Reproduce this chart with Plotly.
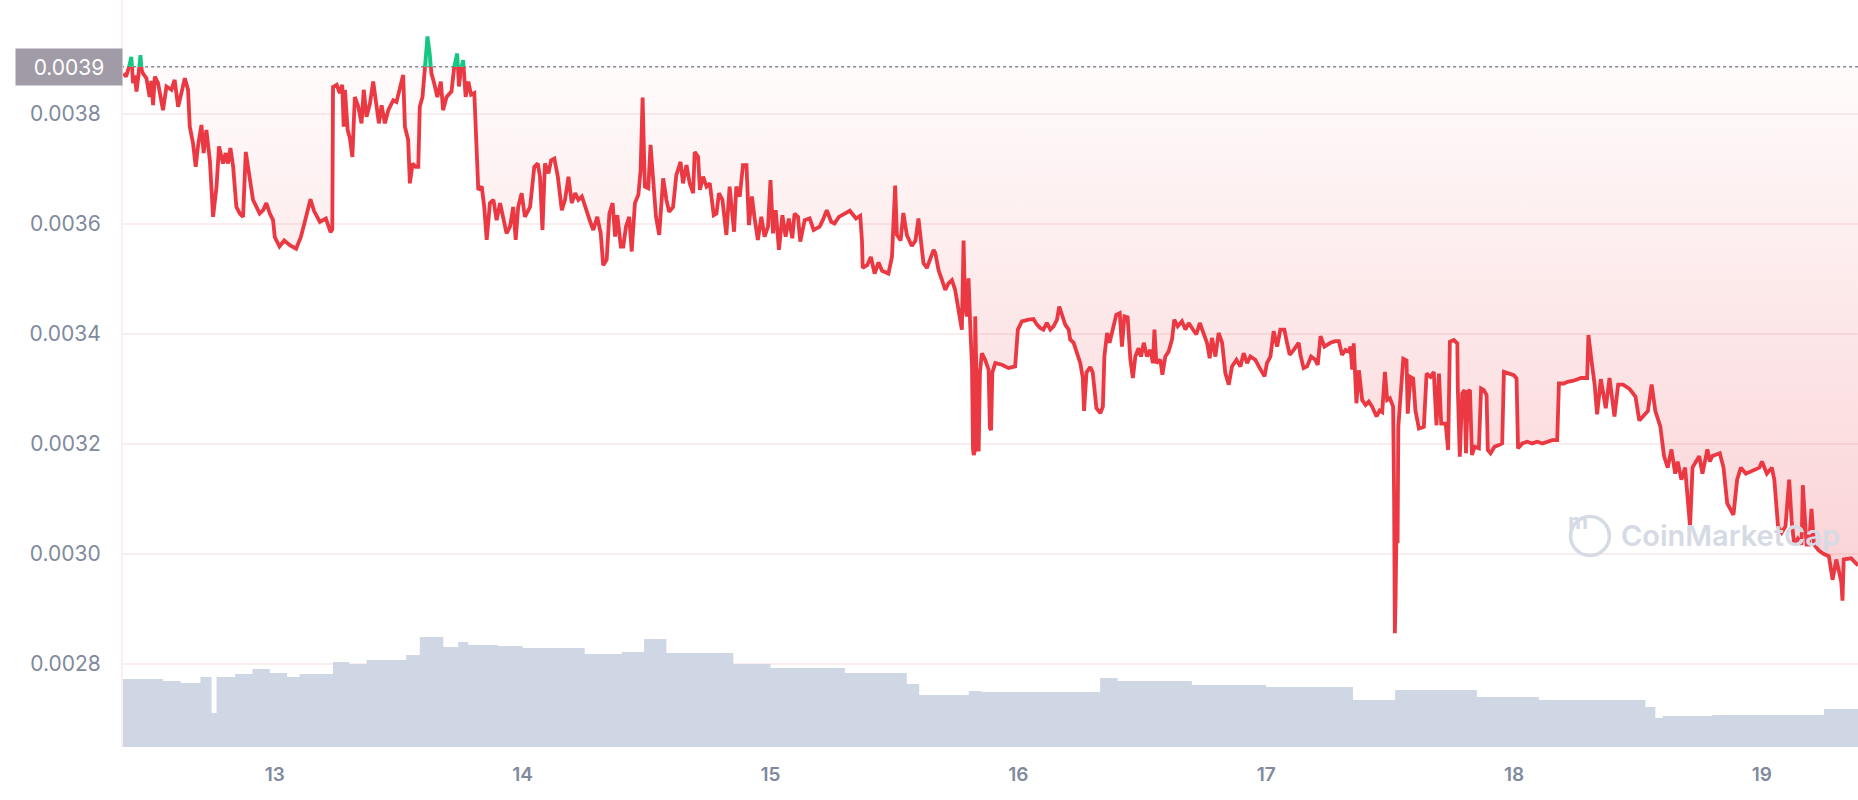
import plotly.graph_objects as go

# ---------------- data ----------------
day_x = [12.390, 12.400, 12.408, 12.415, 12.421, 12.425, 12.428, 12.435, 12.442, 12.450, 12.458, 12.463, 12.468, 12.482, 12.495, 12.502, 12.509, 12.516, 12.529, 12.549, 12.563, 12.583, 12.596, 12.610, 12.623, 12.637, 12.650, 12.657, 12.670, 12.681, 12.690, 12.704, 12.713, 12.724, 12.738, 12.751, 12.765, 12.775, 12.791, 12.802, 12.811, 12.821, 12.832, 12.845, 12.859, 12.872, 12.883, 12.899, 12.912, 12.926, 12.939, 12.953, 12.966, 12.980, 12.993,
13.000, 13.019, 13.038, 13.062, 13.086, 13.105, 13.124, 13.144, 13.158, 13.182, 13.206, 13.225, 13.232, 13.235, 13.250, 13.262, 13.272, 13.278, 13.283, 13.294, 13.303, 13.313, 13.323, 13.337, 13.350, 13.359, 13.370, 13.384, 13.397, 13.411, 13.420, 13.431, 13.444, 13.458, 13.478, 13.491, 13.505, 13.518, 13.525, 13.538, 13.545, 13.556, 13.568, 13.579, 13.585, 13.596, 13.605, 13.616, 13.625, 13.632, 13.643, 13.656, 13.670, 13.679, 13.693, 13.713, 13.724, 13.736, 13.743, 13.751, 13.760, 13.770, 13.781, 13.792, 13.805, 13.815, 13.821, 13.835, 13.845, 13.855, 13.868, 13.882, 13.895, 13.909, 13.922, 13.935, 13.949, 13.962, 13.972, 13.982, 13.996,
14.009, 14.030, 14.047, 14.061, 14.070, 14.080, 14.090, 14.104, 14.115, 14.128, 14.142, 14.158, 14.171, 14.185, 14.198, 14.212, 14.225, 14.239, 14.252, 14.272, 14.285, 14.301, 14.315, 14.325, 14.339, 14.350, 14.363, 14.373, 14.382, 14.396, 14.406, 14.417, 14.430, 14.440, 14.453, 14.467, 14.476, 14.484, 14.493, 14.507, 14.516, 14.527, 14.538, 14.551, 14.567, 14.580, 14.591, 14.607, 14.620, 14.637, 14.647, 14.661, 14.674, 14.688, 14.694, 14.708, 14.715, 14.728, 14.742, 14.755, 14.771, 14.782, 14.792, 14.806, 14.822, 14.835, 14.853, 14.862, 14.876, 14.889, 14.903, 14.913, 14.925, 14.936, 14.949, 14.963, 14.976, 14.990,
15.000, 15.010, 15.021, 15.034, 15.048, 15.061, 15.074, 15.088, 15.097, 15.111, 15.120, 15.138, 15.158, 15.174, 15.198, 15.211, 15.227, 15.245, 15.258, 15.276, 15.300, 15.320, 15.345, 15.362, 15.369, 15.372, 15.390, 15.405, 15.420, 15.436, 15.450, 15.476, 15.490, 15.503, 15.510, 15.525, 15.536, 15.550, 15.570, 15.585, 15.597, 15.610, 15.617, 15.631, 15.644, 15.658, 15.665, 15.678, 15.692, 15.705, 15.718, 15.732, 15.745, 15.759, 15.772, 15.779, 15.785, 15.792, 15.799, 15.806, 15.813, 15.817, 15.820, 15.823, 15.826, 15.830, 15.834, 15.840, 15.845, 15.853, 15.866, 15.880, 15.885, 15.890, 15.895, 15.907, 15.934, 15.960, 15.987, 15.998,
16.014, 16.041, 16.061, 16.075, 16.088, 16.101, 16.115, 16.129, 16.142, 16.156, 16.165, 16.176, 16.189, 16.203, 16.209, 16.223, 16.237, 16.250, 16.260, 16.265, 16.275, 16.290, 16.300, 16.315, 16.331, 16.341, 16.347, 16.358, 16.368, 16.382, 16.395, 16.409, 16.418, 16.428, 16.441, 16.452, 16.462, 16.472, 16.485, 16.495, 16.506, 16.519, 16.532, 16.543, 16.549, 16.557, 16.573, 16.581, 16.593, 16.606, 16.620, 16.629, 16.643, 16.660, 16.674, 16.687, 16.707, 16.718, 16.732, 16.748, 16.761, 16.772, 16.781, 16.795, 16.808, 16.822, 16.835, 16.849, 16.862, 16.880, 16.896, 16.909, 16.923, 16.936, 16.956, 16.970, 16.993,
17.003, 17.017, 17.030, 17.044, 17.057, 17.073, 17.084, 17.095, 17.111, 17.131, 17.138, 17.151, 17.165, 17.181, 17.198, 17.208, 17.219, 17.235, 17.259, 17.279, 17.293, 17.306, 17.320, 17.333, 17.340, 17.347, 17.353, 17.364, 17.374, 17.387, 17.401, 17.414, 17.427, 17.445, 17.458, 17.468, 17.479, 17.488, 17.499, 17.512, 17.516, 17.519, 17.522, 17.525, 17.530, 17.533, 17.542, 17.553, 17.566, 17.571, 17.582, 17.593, 17.602, 17.616, 17.636, 17.647, 17.663, 17.676, 17.687, 17.697, 17.706, 17.724, 17.734, 17.741, 17.757, 17.771, 17.773, 17.781, 17.791, 17.800, 17.806, 17.814, 17.822, 17.830, 17.841, 17.858, 17.867, 17.878, 17.889, 17.894, 17.905, 17.921, 17.939, 17.952, 17.959, 17.979, 17.999,
18.010, 18.016, 18.033, 18.053, 18.073, 18.094, 18.114, 18.134, 18.154, 18.174, 18.181, 18.201, 18.216, 18.240, 18.270, 18.295, 18.300, 18.310, 18.325, 18.335, 18.350, 18.370, 18.385, 18.405, 18.420, 18.440, 18.466, 18.490, 18.505, 18.520, 18.540, 18.555, 18.570, 18.590, 18.605, 18.620, 18.635, 18.650, 18.660, 18.675, 18.690, 18.700, 18.710, 18.720, 18.747, 18.760, 18.780, 18.790, 18.800, 18.830, 18.845, 18.860, 18.885, 18.900, 18.915, 18.935, 18.955, 18.990,
19.000, 19.020, 19.040, 19.050, 19.065, 19.080, 19.095, 19.110, 19.120, 19.130, 19.145, 19.160, 19.165, 19.180, 19.190, 19.200, 19.210, 19.230, 19.250, 19.270, 19.285, 19.300, 19.320, 19.325, 19.330, 19.360, 19.388]

price = [0.003874, 0.003868, 0.003880, 0.003890, 0.003904, 0.003880, 0.003856, 0.003870, 0.003841, 0.003870, 0.003907, 0.003880, 0.003874, 0.003865, 0.003831, 0.003860, 0.003816, 0.003868, 0.003856, 0.003807, 0.003850, 0.003844, 0.003862, 0.003813, 0.003838, 0.003865, 0.003844, 0.003777, 0.003747, 0.003704, 0.003741, 0.003780, 0.003729, 0.003771, 0.003716, 0.003613, 0.003668, 0.003741, 0.003710, 0.003729, 0.003710, 0.003738, 0.003704, 0.003631, 0.003619, 0.003613, 0.003731, 0.003686, 0.003644, 0.003631, 0.003619, 0.003625, 0.003638, 0.003619, 0.003607,
0.003576, 0.003559, 0.003570, 0.003561, 0.003555, 0.003576, 0.003609, 0.003645, 0.003624, 0.003604, 0.003610, 0.003585, 0.003590, 0.003849, 0.003853, 0.003838, 0.003853, 0.003777, 0.003844, 0.003771, 0.003756, 0.003722, 0.003831, 0.003813, 0.003783, 0.003844, 0.003795, 0.003819, 0.003859, 0.003813, 0.003783, 0.003816, 0.003783, 0.003807, 0.003825, 0.003822, 0.003850, 0.003871, 0.003777, 0.003753, 0.003674, 0.003710, 0.003704, 0.003704, 0.003813, 0.003831, 0.003880, 0.003941, 0.003910, 0.003874, 0.003856, 0.003831, 0.003859, 0.003807, 0.003831, 0.003841, 0.003886, 0.003910, 0.003850, 0.003880, 0.003898, 0.003831, 0.003859, 0.003835, 0.003838, 0.003698, 0.003662, 0.003668, 0.003631, 0.003571, 0.003638, 0.003644, 0.003607, 0.003638, 0.003607, 0.003583, 0.003595, 0.003631, 0.003571, 0.003631, 0.003656,
0.003613, 0.003631, 0.003704, 0.003710, 0.003686, 0.003589, 0.003710, 0.003692, 0.003716, 0.003719, 0.003686, 0.003625, 0.003644, 0.003686, 0.003638, 0.003656, 0.003644, 0.003650, 0.003631, 0.003605, 0.003589, 0.003613, 0.003583, 0.003525, 0.003535, 0.003619, 0.003638, 0.003577, 0.003616, 0.003559, 0.003559, 0.003595, 0.003613, 0.003550, 0.003638, 0.003653, 0.003698, 0.003830, 0.003668, 0.003665, 0.003744, 0.003686, 0.003613, 0.003580, 0.003683, 0.003644, 0.003622, 0.003631, 0.003689, 0.003713, 0.003674, 0.003707, 0.003674, 0.003656, 0.003731, 0.003722, 0.003662, 0.003686, 0.003668, 0.003674, 0.003616, 0.003619, 0.003656, 0.003644, 0.003580, 0.003668, 0.003586, 0.003668, 0.003650, 0.003707, 0.003707, 0.003598, 0.003650, 0.003610, 0.003571, 0.003613, 0.003577, 0.003595,
0.003680, 0.003583, 0.003625, 0.003553, 0.003616, 0.003577, 0.003610, 0.003574, 0.003619, 0.003613, 0.003568, 0.003607, 0.003610, 0.003589, 0.003595, 0.003607, 0.003625, 0.003604, 0.003601, 0.003613, 0.003618, 0.003624, 0.003610, 0.003615, 0.003570, 0.003520, 0.003525, 0.003540, 0.003510, 0.003530, 0.003515, 0.003510, 0.003540, 0.003670, 0.003580, 0.003570, 0.003620, 0.003580, 0.003560, 0.003570, 0.003610, 0.003550, 0.003529, 0.003520, 0.003535, 0.003553, 0.003547, 0.003516, 0.003498, 0.003480, 0.003492, 0.003498, 0.003480, 0.003444, 0.003408, 0.003570, 0.003450, 0.003432, 0.003501, 0.003414, 0.003340, 0.003190, 0.003180, 0.003185, 0.003432, 0.003340, 0.003190, 0.003190, 0.003330, 0.003365, 0.003353, 0.003335, 0.003230, 0.003225, 0.003330, 0.003347, 0.003344, 0.003338, 0.003341, 0.003408,
0.003423, 0.003426, 0.003427, 0.003417, 0.003411, 0.003408, 0.003420, 0.003408, 0.003414, 0.003426, 0.003450, 0.003435, 0.003417, 0.003408, 0.003390, 0.003384, 0.003365, 0.003347, 0.003320, 0.003260, 0.003330, 0.003340, 0.003330, 0.003265, 0.003256, 0.003268, 0.003359, 0.003402, 0.003384, 0.003408, 0.003435, 0.003438, 0.003377, 0.003432, 0.003430, 0.003353, 0.003320, 0.003359, 0.003374, 0.003359, 0.003384, 0.003359, 0.003371, 0.003347, 0.003408, 0.003347, 0.003353, 0.003326, 0.003359, 0.003368, 0.003390, 0.003426, 0.003414, 0.003423, 0.003408, 0.003420, 0.003405, 0.003399, 0.003420, 0.003402, 0.003384, 0.003356, 0.003393, 0.003359, 0.003402, 0.003384, 0.003329, 0.003308, 0.003341, 0.003353, 0.003341, 0.003365, 0.003347, 0.003359, 0.003353, 0.003341, 0.003323,
0.003347, 0.003359, 0.003405, 0.003377, 0.003408, 0.003408, 0.003384, 0.003362, 0.003371, 0.003384, 0.003362, 0.003338, 0.003341, 0.003359, 0.003353, 0.003344, 0.003396, 0.003377, 0.003384, 0.003387, 0.003387, 0.003362, 0.003371, 0.003368, 0.003377, 0.003335, 0.003383, 0.003274, 0.003334, 0.003280, 0.003271, 0.003277, 0.003268, 0.003250, 0.003261, 0.003258, 0.003331, 0.003280, 0.003283, 0.003268, 0.003100, 0.002856, 0.002920, 0.003030, 0.003020, 0.003231, 0.003283, 0.003355, 0.003352, 0.003255, 0.003322, 0.003319, 0.003261, 0.003228, 0.003231, 0.003328, 0.003322, 0.003331, 0.003234, 0.003328, 0.003237, 0.003237, 0.003189, 0.003386, 0.003389, 0.003383, 0.003301, 0.003177, 0.003292, 0.003298, 0.003183, 0.003295, 0.003298, 0.003180, 0.003195, 0.003192, 0.003301, 0.003298, 0.003289, 0.003189, 0.003183, 0.003195, 0.003198, 0.003201, 0.003331, 0.003328, 0.003325,
0.003319, 0.003192, 0.003201, 0.003204, 0.003201, 0.003204, 0.003201, 0.003204, 0.003207, 0.003207, 0.003310, 0.003310, 0.003313, 0.003315, 0.003320, 0.003320, 0.003398, 0.003360, 0.003308, 0.003254, 0.003318, 0.003265, 0.003320, 0.003250, 0.003308, 0.003308, 0.003300, 0.003286, 0.003243, 0.003250, 0.003260, 0.003308, 0.003260, 0.003232, 0.003178, 0.003157, 0.003190, 0.003146, 0.003168, 0.003135, 0.003157, 0.003103, 0.003050, 0.003157, 0.003178, 0.003146, 0.003190, 0.003168, 0.003178, 0.003183, 0.003157, 0.003092, 0.003071, 0.003135, 0.003157, 0.003146, 0.003150, 0.003157,
0.003168, 0.003146, 0.003157, 0.003135, 0.003050, 0.003039, 0.003050, 0.003135, 0.003060, 0.003017, 0.003028, 0.003017, 0.003125, 0.003017, 0.003017, 0.003082, 0.003017, 0.003006, 0.003000, 0.002996, 0.002953, 0.002990, 0.002950, 0.002915, 0.002990, 0.002992, 0.002979]

vol_day = [12.387, 12.55, 12.62, 12.70, 12.745, 12.765, 12.84, 12.91, 12.98, 13.05, 13.10, 13.235, 13.30, 13.37, 13.53, 13.585, 13.68, 13.74, 13.78, 13.90, 14.00, 14.25, 14.40, 14.49, 14.58, 14.85, 15.00, 15.30, 15.55, 15.60, 15.80, 15.85, 16.33, 16.40, 16.70, 17.00, 17.35, 17.52, 17.85, 18.10, 18.53, 18.57, 18.60, 18.80, 19.25, 19.39]
vol_value = [68, 66, 64, 70, 34, 70, 73, 78, 74, 70, 73, 85, 83, 87, 92, 110, 100, 105, 102, 101, 99, 93, 95, 108, 94, 83, 79, 74, 63, 52, 56, 55, 69, 66, 62, 60, 47, 57, 50, 47, 40, 29, 31, 32, 38, 38]

base_price = 0.003886
base_label = "0.0039"
y_ticks = [0.0028, 0.0030, 0.0032, 0.0034, 0.0036, 0.0038]
y_tick_text = ["0.0028", "0.0030", "0.0032", "0.0034", "0.0036", "0.0038"]
x_ticks = [13, 14, 15, 16, 17, 18, 19]
x_tick_text = ["13", "14", "15", "16", "17", "18", "19"]

RED = "#ea3943"
GREEN = "#16c784"
LABEL = "#808a9d"

# ---- split series at baseline crossings ----
xs, ys = [], []
for i in range(len(day_x)):
    if i > 0:
        y0, y1 = price[i - 1], price[i]
        if (y0 - base_price) * (y1 - base_price) < 0:
            t = (base_price - y0) / (y1 - y0)
            xs.append(day_x[i - 1] + t * (day_x[i] - day_x[i - 1]))
            ys.append(base_price)
    xs.append(day_x[i])
    ys.append(price[i])

red_y = [v if v <= base_price else None for v in ys]
green_y = [v if v >= base_price else None for v in ys]
low_y = [min(v, base_price) for v in ys]
high_y = [max(v, base_price) for v in ys]
base_y = [base_price] * len(xs)

fig = go.Figure()

# volume (step area on secondary axis)
fig.add_trace(go.Scatter(x=vol_day, y=vol_value, yaxis="y2", mode="lines",
                         line=dict(shape="hv", width=0, color="#cfd6e4"),
                         fill="tozeroy", fillcolor="#cfd6e4", hoverinfo="skip", showlegend=False))

# red gradient fill between baseline and price
fig.add_trace(go.Scatter(x=xs, y=base_y, mode="lines", line=dict(width=0), hoverinfo="skip", showlegend=False))
fig.add_trace(go.Scatter(x=xs, y=low_y, mode="lines", line=dict(width=0), fill="tonexty",
                         fillgradient=dict(type="vertical",
                                           colorscale=[[0, "rgba(234,57,67,0.24)"], [1, "rgba(234,57,67,0.02)"]],
                                           start=0.00286, stop=base_price),
                         hoverinfo="skip", showlegend=False))
# green fill
fig.add_trace(go.Scatter(x=xs, y=base_y, mode="lines", line=dict(width=0), hoverinfo="skip", showlegend=False))
fig.add_trace(go.Scatter(x=xs, y=high_y, mode="lines", line=dict(width=0), fill="tonexty",
                         fillcolor="rgba(22,199,132,0.35)", hoverinfo="skip", showlegend=False))

# baseline
fig.add_trace(go.Scatter(x=[day_x[0] - 0.01, 19.3876], y=[base_price, base_price], mode="lines",
                         line=dict(color="#8a8496", width=1.5, dash="dot"), hoverinfo="skip", showlegend=False))

# price lines
fig.add_trace(go.Scatter(x=xs, y=red_y, mode="lines", line=dict(color=RED, width=3.8),
                         connectgaps=False, showlegend=False))
fig.add_trace(go.Scatter(x=xs, y=green_y, mode="lines", line=dict(color=GREEN, width=3.8),
                         connectgaps=False, showlegend=False))

fig.update_layout(
    width=1858, height=800,
    margin=dict(l=123, r=0, t=0, b=53),
    paper_bgcolor="white", plot_bgcolor="white",
    font=dict(family="Inter, Roboto, sans-serif", color=LABEL),
    xaxis=dict(range=[12.3876, 19.3876], tickvals=x_ticks, ticktext=x_tick_text,
               showgrid=False, zeroline=False, showline=False, ticks="",
               tickfont=dict(size=19, color=LABEL, family="Inter, sans-serif", weight=600),
               ticklabelstandoff=14),
    yaxis=dict(range=[0.002649, 0.0040073], tickvals=y_ticks, ticktext=y_tick_text,
               showgrid=True, gridcolor="#faeded", gridwidth=1.5, zeroline=False,
               showline=True, linecolor="#fbeeee", linewidth=2, ticks="",
               tickfont=dict(size=21, color=LABEL, family="Inter, sans-serif"),
               ticklabelstandoff=16),
    yaxis2=dict(range=[0, 747], overlaying="y", side="right", visible=False),
    showlegend=False,
)

# baseline label
fig.add_annotation(xref="paper", yref="y", x=0, y=base_price, xanchor="right", yanchor="middle",
                   text=base_label, showarrow=False, bgcolor="#a09ba7", width=104, height=34,
                   font=dict(size=21, color="white", family="Inter, sans-serif"))

# watermark
fig.add_shape(type="circle", xref="paper", yref="paper",
              x0=0.8455 - 0.0112, x1=0.8455 + 0.0112, y0=0.2825 - 0.026, y1=0.2825 + 0.026,
              line=dict(color="#d5dae4", width=3.5))
fig.add_annotation(xref="paper", yref="paper", x=0.8455, y=0.2825, text="<b>m</b>", showarrow=False,
                   font=dict(size=22, color="#d5dae4", family="Inter, sans-serif"))
fig.add_annotation(xref="paper", yref="paper", x=0.862, y=0.2825, xanchor="left", yanchor="middle",
                   text="CoinMarketCap", showarrow=False,
                   font=dict(size=29, color="#d5dae4", family="Inter, sans-serif", weight=600))

fig.write_html("out.html", config={"displayModeBar": False},
               post_script="document.body.style.margin='0';document.body.style.overflow='hidden';")
